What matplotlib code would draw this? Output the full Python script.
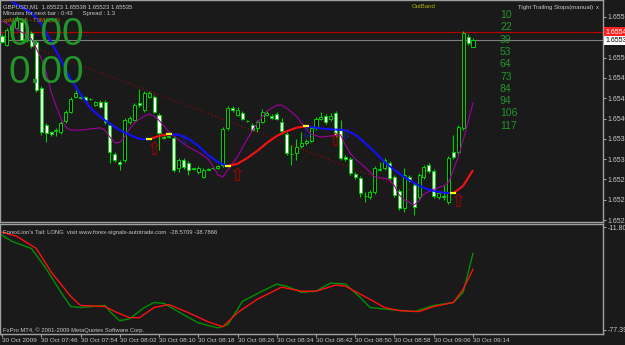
import matplotlib
matplotlib.use('Agg')
import matplotlib.pyplot as plt
import matplotlib.transforms as mtransforms
from matplotlib.collections import LineCollection
import numpy as np

# GBPUSD M1 candles, 07:38 .. 09:14
opens = [1.65542, 1.65527, 1.65553, 1.65556, 1.65566, 1.65535, 1.65547, 1.65532, 1.65453, 1.65389,
         1.65377, 1.65378, 1.65377, 1.65396, 1.65411, 1.65437, 1.65436, 1.65437, 1.65434, 1.65423,
         1.65428, 1.65428, 1.65389, 1.65339, 1.65325, 1.65328, 1.65394, 1.65397, 1.65427, 1.65415,
         1.65437, 1.65437, 1.65406, 1.65368, 1.65368, 1.65366, 1.65315, 1.65328, 1.65323, 1.65313,
         1.65308, 1.65299, 1.65313, 1.65315, 1.65315, 1.65320, 1.65384, 1.65418, 1.65406, 1.65409,
         1.65396, 1.65389, 1.65384, 1.65394, 1.65406, 1.65404, 1.65408, 1.65394, 1.65373, 1.65339,
         1.65340, 1.65352, 1.65358, 1.65361, 1.65384, 1.65399, 1.65404, 1.65399, 1.65409, 1.65380,
         1.65334, 1.65330, 1.65304, 1.65297, 1.65266, 1.65265, 1.65273, 1.65311, 1.65315, 1.65323,
         1.65299, 1.65275, 1.65246, 1.65299, 1.65285, 1.65265, 1.65299, 1.65320, 1.65309, 1.65265,
         1.65266, 1.65256, 1.65342, 1.65342, 1.65384, 1.65541, 1.65523]
highs = [1.65546, 1.65556, 1.65566, 1.65577, 1.65570, 1.65549, 1.65551, 1.65535, 1.65456, 1.65392,
         1.65378, 1.65384, 1.65396, 1.65415, 1.65437, 1.65449, 1.65439, 1.65439, 1.65436, 1.65430,
         1.65432, 1.65432, 1.65392, 1.65342, 1.65328, 1.65401, 1.65404, 1.65427, 1.65451, 1.65447,
         1.65447, 1.65441, 1.65409, 1.65372, 1.65370, 1.65370, 1.65332, 1.65332, 1.65327, 1.65315,
         1.65318, 1.65315, 1.65315, 1.65316, 1.65320, 1.65385, 1.65422, 1.65422, 1.65420, 1.65413,
         1.65397, 1.65392, 1.65397, 1.65416, 1.65413, 1.65408, 1.65411, 1.65401, 1.65377, 1.65354,
         1.65365, 1.65377, 1.65365, 1.65387, 1.65403, 1.65411, 1.65408, 1.65409, 1.65413, 1.65397,
         1.65337, 1.65334, 1.65308, 1.65301, 1.65273, 1.65277, 1.65318, 1.65325, 1.65332, 1.65327,
         1.65303, 1.65278, 1.65315, 1.65303, 1.65289, 1.65306, 1.65320, 1.65323, 1.65313, 1.65275,
         1.65285, 1.65335, 1.65372, 1.65389, 1.65551, 1.65546, 1.65538]
lows = [1.65530, 1.65525, 1.65549, 1.65553, 1.65532, 1.65532, 1.65522, 1.65446, 1.65372, 1.65359,
        1.65370, 1.65370, 1.65373, 1.65392, 1.65409, 1.65436, 1.65434, 1.65430, 1.65432, 1.65422,
        1.65418, 1.65390, 1.65323, 1.65325, 1.65311, 1.65325, 1.65390, 1.65396, 1.65420, 1.65411,
        1.65436, 1.65409, 1.65346, 1.65365, 1.65366, 1.65308, 1.65308, 1.65313, 1.65303, 1.65311,
        1.65304, 1.65297, 1.65311, 1.65313, 1.65313, 1.65316, 1.65380, 1.65411, 1.65404, 1.65397,
        1.65394, 1.65378, 1.65377, 1.65392, 1.65404, 1.65399, 1.65397, 1.65373, 1.65337, 1.65320,
        1.65328, 1.65349, 1.65354, 1.65359, 1.65380, 1.65397, 1.65390, 1.65396, 1.65368, 1.65328,
        1.65327, 1.65303, 1.65296, 1.65265, 1.65256, 1.65261, 1.65270, 1.65309, 1.65311, 1.65294,
        1.65265, 1.65242, 1.65239, 1.65290, 1.65234, 1.65261, 1.65296, 1.65306, 1.65263, 1.65261,
        1.65259, 1.65253, 1.65330, 1.65339, 1.65380, 1.65527, 1.65523]
closes = [1.65532, 1.65553, 1.65561, 1.65573, 1.65535, 1.65546, 1.65525, 1.65449, 1.65377, 1.65375,
          1.65373, 1.65380, 1.65392, 1.65411, 1.65434, 1.65444, 1.65437, 1.65432, 1.65433, 1.65428,
          1.65420, 1.65394, 1.65342, 1.65328, 1.65321, 1.65397, 1.65401, 1.65423, 1.65423, 1.65444,
          1.65444, 1.65411, 1.65375, 1.65367, 1.65369, 1.65311, 1.65328, 1.65316, 1.65311, 1.65314,
          1.65315, 1.65311, 1.65312, 1.65314, 1.65318, 1.65382, 1.65418, 1.65415, 1.65415, 1.65399,
          1.65395, 1.65380, 1.65394, 1.65411, 1.65409, 1.65401, 1.65399, 1.65378, 1.65340, 1.65338,
          1.65351, 1.65358, 1.65361, 1.65384, 1.65399, 1.65403, 1.65394, 1.65404, 1.65372, 1.65332,
          1.65330, 1.65306, 1.65299, 1.65272, 1.65267, 1.65273, 1.65315, 1.65312, 1.65328, 1.65297,
          1.65268, 1.65246, 1.65303, 1.65294, 1.65247, 1.65303, 1.65316, 1.65309, 1.65266, 1.65272,
          1.65265, 1.65332, 1.65334, 1.65385, 1.65547, 1.65530, 1.65535]

time_ticks = list(range(0, 97, 8))
time_labels = ["30 Oct 2009", "30 Oct 07:46", "30 Oct 07:54", "30 Oct 08:02", "30 Oct 08:10",
               "30 Oct 08:18", "30 Oct 08:26", "30 Oct 08:34", "30 Oct 08:42", "30 Oct 08:50",
               "30 Oct 08:58", "30 Oct 09:06", "30 Oct 09:14"]
price_ticks = [1.65575, 1.65505, 1.65470, 1.65435, 1.65400, 1.65365, 1.65330, 1.65295, 1.65260, 1.65225]

# T3MA line (blue falling / red rising)
tma_x = [2, 4, 6, 8, 10, 12, 14, 16, 18, 20, 22, 24, 26, 28, 30, 32, 34, 36, 38, 40, 42, 44, 46, 48,
         50, 52, 54, 56, 58, 60, 62, 64, 66, 68, 70, 72, 74, 76, 78, 80, 82, 84, 86, 88, 90, 92, 94, 96]
tma_y = [1.65601, 1.65592, 1.65582, 1.65563, 1.65532, 1.65501, 1.65468, 1.65442, 1.65418, 1.65403,
         1.65391, 1.65380, 1.65372, 1.65365, 1.65364, 1.65370, 1.65373, 1.65372, 1.65365, 1.65353,
         1.65337, 1.65325, 1.65318, 1.65322, 1.65332, 1.65344, 1.65358, 1.65370, 1.65378, 1.65384,
         1.65387, 1.65384, 1.65382, 1.65381, 1.65380, 1.65372, 1.65358, 1.65342, 1.65325, 1.65311,
         1.65299, 1.65289, 1.65280, 1.65275, 1.65272, 1.65271, 1.65284, 1.65311]

# purple moving average
pur_x = [0, 2, 4, 6, 8, 9, 10, 11, 12, 13, 14, 16, 18, 20, 21, 22, 23, 24, 25, 26, 27, 28, 29, 30, 31,
         32, 33, 34, 36, 38, 40, 42, 43, 44, 45, 46, 47, 48, 50, 52, 54, 56, 57, 58, 60, 62, 63, 65, 67,
         69, 70, 71, 72, 74, 76, 78, 79, 80, 81, 82, 84, 85, 86, 88, 90, 91, 92, 93, 94, 95, 96]
pur_y = [1.65568, 1.65559, 1.65549, 1.65537, 1.65504, 1.65480, 1.65446, 1.65422, 1.65401, 1.65385,
         1.65380, 1.65380, 1.65382, 1.65384, 1.65380, 1.65368, 1.65358, 1.65359, 1.65368, 1.65382,
         1.65392, 1.65399, 1.65404, 1.65408, 1.65404, 1.65397, 1.65387, 1.65377, 1.65363, 1.65351,
         1.65342, 1.65330, 1.65318, 1.65303, 1.65299, 1.65311, 1.65323, 1.65334, 1.65365, 1.65392,
         1.65413, 1.65423, 1.65423, 1.65418, 1.65404, 1.65382, 1.65373, 1.65368, 1.65370, 1.65372,
         1.65354, 1.65340, 1.65330, 1.65316, 1.65299, 1.65297, 1.65294, 1.65284, 1.65268, 1.65260,
         1.65251, 1.65258, 1.65270, 1.65278, 1.65284, 1.65290, 1.65311, 1.65334, 1.65363, 1.65394,
         1.65427]

trend_x = [2, 83]
trend_y = [1.65537, 1.65277]

up_x = [31, 48, 68, 93]
up_y = [1.65346, 1.65301, 1.65361, 1.65256]
dn_x = [37, 62, 70]
dn_y = [1.65363, 1.65375, 1.65372]

ask_line = 1.65549
bid_line = 1.65535

# ForexLion's Tail sub window
sub_red_x = [0, 3, 7, 10, 14, 16, 21, 23, 26, 28, 31, 34, 38, 42, 45, 48, 52, 57, 61, 64, 68, 70, 75,
             78, 81, 85, 88, 92, 94, 96]
sub_red_y = [-15.1, -17.7, -25.5, -40.4, -56.0, -61.8, -62.5, -65.7, -69.6, -69.6, -63.1, -61.2,
             -66.4, -72.2, -75.4, -66.4, -57.9, -50.1, -52.7, -52.7, -48.8, -49.5, -57.9, -63.1,
             -65.1, -65.7, -62.5, -59.9, -51.4, -38.79]
sub_grn_x = [0, 2, 6, 9, 12, 14, 16, 21, 22, 24, 26, 29, 31, 33, 37, 40, 44, 46, 49, 53, 56, 58, 61,
             64, 67, 70, 73, 75, 79, 84, 88, 92, 94, 96]
sub_grn_y = [-17.0, -20.9, -25.5, -38.4, -53.4, -62.5, -63.1, -61.8, -65.7, -71.6, -70.3, -63.1,
             -59.9, -60.5, -67.7, -72.9, -76.1, -74.1, -59.2, -52.7, -48.2, -49.5, -53.4, -52.7,
             -47.5, -48.2, -56.6, -63.1, -64.4, -65.7, -61.8, -59.9, -53.4, -28.57]

trail_levels = ["10", "22", "39", "53", "64", "73", "84", "94", "106", "117"]

BG = '#1a1a1a'
FG = '#c8c8c8'
GRID = '#a0a0a0'
CANDLE = '#00d000'
SMALL = ['Liberation Sans Narrow', 'Liberation Sans', 'DejaVu Sans']

W, H = 625, 345
fig = plt.figure(figsize=(W / 100, H / 100), dpi=100, facecolor=BG)


def px_axes(x0, y0, x1, y1):
    return fig.add_axes([x0 / W, 1 - y1 / H, (x1 - x0) / W, (y1 - y0) / H])


ax = px_axes(0, 0, 603, 222)
sub = px_axes(0, 224, 603, 334)

for a in (ax, sub):
    a.set_facecolor(BG)
    a.set_xlim(-0.41, 122.5)
    for s in a.spines.values():
        s.set_color(GRID)
        s.set_linewidth(1.0)
    a.yaxis.tick_right()
    a.tick_params(axis='y', colors=GRID, labelcolor=FG, labelsize=5, length=2, pad=1.5)

ax.set_ylim(1.652216, 1.656043)
ax.set_xticks([])
ax.set_yticks(price_ticks)
ax.set_yticklabels(['%.5f' % p for p in price_ticks], family=SMALL)

# candles
idx = np.arange(len(opens))
o = np.array(opens)
c = np.array(closes)
ax.vlines(idx, lows, highs, color=CANDLE, linewidth=0.8, zorder=3)
body_lo = np.minimum(o, c)
body_h = np.maximum(np.abs(c - o), 0.000012)
fills = ['#ffffff' if cc < oo else '#0c0c0c' for oo, cc in zip(o, c)]
ax.bar(idx, body_h, bottom=body_lo, width=0.62, color=fills, edgecolor=CANDLE,
       linewidth=0.7, zorder=4)

# horizontal price lines
ax.axhline(ask_line, color='#b00000', linewidth=0.9, zorder=2)
ax.axhline(bid_line, color='#808080', linewidth=0.8, zorder=2)

# trend line
ax.plot(trend_x, trend_y, color='#b00000', linewidth=0.8, linestyle=(0, (1, 2.5)), zorder=2)

# purple MA
ax.plot(pur_x, pur_y, color='#a000a0', linewidth=0.8, zorder=5)

# T3MA coloured by slope
pts = np.column_stack([tma_x, tma_y])
segs = np.stack([pts[:-1], pts[1:]], axis=1)
d = np.diff(tma_y)
cols = ['#ff1010' if v > 0 else '#1010ff' for v in d]
ax.add_collection(LineCollection(segs, colors=cols, linewidths=1.5, zorder=6))
turn = [i + 1 for i in range(len(d) - 1) if (d[i] > 0) != (d[i + 1] > 0)]
ax.plot([tma_x[i] for i in turn], [tma_y[i] for i in turn], linestyle='none', marker='_',
        markersize=4, markeredgewidth=1.6, color='#ffff00', zorder=7)

# signal arrows
for x, y in zip(up_x, up_y):
    ax.text(x, y, '\u21e7', color='#b00000', fontsize=13, ha='center', va='center',
            family='DejaVu Sans', zorder=7)
for x, y in zip(dn_x, dn_y):
    ax.text(x, y, '\u21e9', color='#2020a0', fontsize=10, ha='center', va='center',
            family='DejaVu Sans', zorder=7)

# price boxes on the right scale
tr = mtransforms.blended_transform_factory(ax.transAxes, ax.transData)
ax.text(1.004, ask_line, '%.5f' % ask_line, transform=tr, color='white', fontsize=5,
        va='center', ha='left', family=SMALL, clip_on=False,
        bbox=dict(facecolor='#ff2020', edgecolor='none', pad=0.8))
ax.text(1.004, bid_line, '%.5f' % bid_line, transform=tr, color='black', fontsize=5,
        va='center', ha='left', family=SMALL, clip_on=False,
        bbox=dict(facecolor='white', edgecolor='none', pad=0.8))

# sub window
sub.set_ylim(-80.0, -9.86)
sub.plot(sub_grn_x, sub_grn_y, color='#009000', linewidth=1.0)
sub.plot(sub_red_x, sub_red_y, color='#ff1010', linewidth=1.0)
sub.set_yticks([-11.8053, -77.3909])
sub.set_yticklabels(['-11.8053', '-77.3909'], family=SMALL)
sub.set_xticks(time_ticks)
sub.set_xticklabels(time_labels, family=SMALL)
sub.tick_params(axis='x', colors=GRID, labelcolor=FG, labelsize=4.6, length=2, pad=1)
for lbl in sub.get_xticklabels():
    lbl.set_ha('left')


def ftext(x, y, s, **kw):
    kw.setdefault('ha', 'left')
    fig.text(x / W, 1 - y / H, s, va='baseline', **kw)


# chart header texts
ftext(3, 8, 'GBPUSD,M1  1.65523 1.65538 1.65523 1.65535', color=FG, fontsize=4.3, family=SMALL)
ftext(3, 15, 'Minutes for next bar : 0:43      Spread : 1.3', color=FG, fontsize=4.3, family=SMALL)
ftext(3, 22, 'xpMA_v5 - T3MA(13)', color='#c88000', fontsize=4.3, family=SMALL)
ftext(412, 8, 'OutBand', color='#b4b400', fontsize=4.3, family=SMALL)
ftext(518, 9, 'Tight Trailing Stops(manual)', color=FG, fontsize=4.3, family=SMALL)
ftext(596, 9, 'x', color=FG, fontsize=4.3, family=SMALL)

big = ['Liberation Sans', 'DejaVu Sans']
ftext(8, 45, '0.00', color='#22962a', fontsize=28, family=big, zorder=8)
ftext(8, 83, '0.00', color='#22962a', fontsize=28, family=big, zorder=8)

for k, s in enumerate(trail_levels):
    ftext(500, 18 + k * 12.3, s, color='#22962a', fontsize=7.5, family=big)

ftext(3, 234, "ForexLion's Tail: LONG  visit www.forex-signals-autotrade.com  -28.5709 -38.7866",
      color=FG, fontsize=4.2, family=SMALL)
ftext(3, 332, 'FxPro MT4, \u00a9 2001-2009 MetaQuotes Software Corp.', color=FG, fontsize=4.2,
      family=SMALL)

fig.savefig('out.png', dpi=100, facecolor=BG)
